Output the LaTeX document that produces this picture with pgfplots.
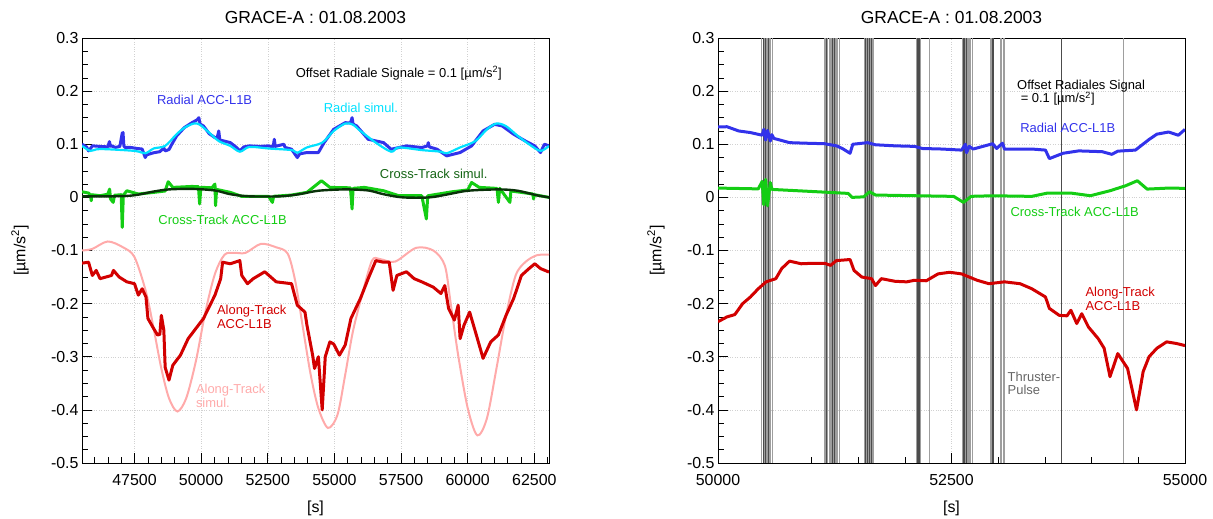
\documentclass[border=0pt]{standalone}
\usepackage{fontspec}
\setmainfont{Liberation Sans}
\usepackage{pgfplots}
\pgfplotsset{compat=1.18}

\definecolor{radblue}{RGB}{50,50,235}
\definecolor{radcyan}{RGB}{0,225,255}
\definecolor{crossgreen}{RGB}{20,205,20}
\definecolor{crossdark}{RGB}{10,50,10}
\definecolor{crosslabel}{RGB}{20,100,20}
\definecolor{alongred}{RGB}{210,0,0}
\definecolor{alongpink}{RGB}{255,170,170}

\tikzset{lbl/.style={font=\fontsize{13}{13.5}\selectfont, inner sep=0pt}}

\pgfplotsset{
  gracestyle/.style={
    scale only axis, width=467bp, height=425bp,
    ymin=-0.5, ymax=0.3,
    ytick={-0.5,-0.4,-0.3,-0.2,-0.1,0,0.1,0.2,0.3},
    yticklabels={-0.5,-0.4,-0.3,-0.2,-0.1,0,0.1,0.2,0.3},
    minor y tick num=3,
    tick pos=left, tick align=inside,
    major tick length=10bp, minor tick length=6bp,
    every tick/.style={black, line width=0.6bp},
    grid=major, major grid style={dotted, black!18, line width=0.5bp},
    axis line style={line width=0.8bp},
    scaled x ticks=false,
    tick label style={font=\fontsize{16}{19}\selectfont},
    xticklabel style={yshift=-8bp, /pgf/number format/fixed, /pgf/number format/1000 sep={}},
    label style={font=\fontsize{16}{19}\selectfont},
    /pgf/number format/1000 sep={},
    /pgf/number format/assume math mode=true,
    xlabel={[s]},
    ylabel={[µm/s\textsuperscript{2}]},
    ylabel style={at={(axis description cs:-0.133,0.5)}, anchor=center},
    xlabel style={at={(axis description cs:0.5,-0.106)}, anchor=center},
    title={GRACE-A : 01.08.2003},
    title style={at={(axis description cs:0.5,1.035)}, anchor=center, font=\fontsize{17.5}{20}\selectfont},
  }
}

\begin{document}
\begin{tikzpicture}
\useasboundingbox (0,0) rectangle (1213bp,519bp);

% ---------------- left panel ----------------
\begin{axis}[gracestyle, at={(82bp,56bp)}, anchor=south west,
  xmin=45530, xmax=63050,
  xtick={47500,50000,52500,55000,57500,60000,62500},
  xticklabels={47500,50000,52500,55000,57500,60000,62500},
  minor xtick={46000,46500,47000,48000,48500,49000,49500,50500,51000,51500,52000,53000,53500,54000,54500,55500,56000,56500,57000,58000,58500,59000,59500,60500,61000,61500,62000,63000},
]
% Radial ACC-L1B
\addplot[radblue, line width=3bp, line join=round] coordinates {
(45530,0.100)(45700,0.095)(45776,0.0875)(45850,0.092)(45919,0.097)(46200,0.096)(46500,0.095)(46560,0.105)(46600,0.096)(46638,0.097)(46781,0.094)(46950,0.096)(47040,0.121)(47069,0.122)(47100,0.097)(47141,0.094)(47356,0.094)(47600,0.092)(47787,0.091)(47902,0.075)(47950,0.080)(48219,0.084)(48450,0.086)(48600,0.093)(48650,0.0875)(48793,0.090)(48900,0.100)(49081,0.1156)(49368,0.1313)(49656,0.1406)(49850,0.146)(49914,0.150)(49960,0.138)(50087,0.1344)(50300,0.120)(50518,0.1125)(50600,0.112)(50661,0.125)(50700,0.108)(51093,0.1031)(51300,0.095)(51452,0.0875)(51600,0.095)(51811,0.0969)(52200,0.096)(52530,0.0969)(52700,0.095)(52745,0.1094)(52780,0.096)(53104,0.1000)(53150,0.094)(53392,0.0906)(53607,0.075)(53700,0.082)(53967,0.0844)(54398,0.0844)(54613,0.1031)(54972,0.1281)(55404,0.1406)(55600,0.140)(55662,0.150)(55700,0.138)(55835,0.1344)(56266,0.1094)(56841,0.1031)(57128,0.0906)(57703,0.0969)(58278,0.0938)(58493,0.0969)(58520,0.103)(58560,0.095)(58852,0.0906)(59212,0.0781)(59715,0.0844)(60146,0.0969)(60577,0.125)(61008,0.1375)(61295,0.1344)(61726,0.1188)(62157,0.1063)(62517,0.0969)(62732,0.0844)(62876,0.100)(63050,0.097)
};
% Radial simul.
\addplot[radcyan, line width=2.2bp, smooth, tension=0.5] coordinates {
(45530,0.097)(45848,0.0875)(46207,0.091)(47500,0.0875)(47902,0.083)(48219,0.092)(48650,0.097)(49081,0.119)(49368,0.131)(49727,0.139)(49943,0.137)(50230,0.125)(50661,0.106)(51093,0.097)(51452,0.086)(51811,0.095)(52530,0.092)(53392,0.089)(53607,0.084)(53967,0.094)(54541,0.103)(54972,0.125)(55404,0.139)(55691,0.137)(55978,0.125)(56553,0.103)(57128,0.086)(57415,0.094)(58278,0.089)(58996,0.086)(59212,0.083)(59715,0.094)(60289,0.106)(60720,0.128)(61079,0.139)(61439,0.134)(61870,0.116)(62301,0.100)(62732,0.0875)(63050,0.097)
};
% Cross-Track ACC-L1B
\addplot[crossgreen, line width=3bp, line join=round] coordinates {
(45530,0.0106)(45776,0.0081)(45850,0.004)(45876,-0.0063)(45900,0.005)(46207,0.0031)(46500,0.006)(46566,0.0156)(46600,-0.0031)(46700,-0.0094)(46750,0.004)(47000,0.005)(47040,-0.0563)(47080,0.004)(47213,0.0125)(47644,0.0063)(48219,0.0094)(48650,0.012)(48765,0.0294)(48937,0.0188)(49656,0.0206)(49900,0.02)(49943,-0.0125)(49990,0.019)(50400,0.018)(50518,0.025)(50540,-0.0156)(50580,0.015)(51093,0.0094)(51524,0.0019)(52530,0.0019)(52673,-0.0094)(52720,0.002)(53392,0.0044)(53967,0.0094)(54513,0.0313)(54829,0.0188)(55600,0.018)(55662,-0.0219)(55700,0.017)(56122,0.0188)(56841,0.0125)(57415,0.0031)(58278,0.0031)(58449,-0.0406)(58500,0.003)(59427,0.0106)(60000,0.014)(60146,0.028)(60433,0.0188)(61100,0.0169)(61152,-0.0094)(61200,0.017)(61583,-0.0094)(61620,0.012)(62014,0.0094)(62445,0.0063)(62470,-0.003)(62500,0.005)(63050,0.0)
};
% Cross-Track simul.
\addplot[crossdark, line width=2.4bp, smooth, tension=0.5] coordinates {
(45530,0.002)(46781,0.002)(47500,0.004)(48219,0.011)(48793,0.015)(49656,0.016)(50518,0.013)(51093,0.006)(51811,0.002)(52961,0.002)(53679,0.006)(54398,0.0125)(55404,0.015)(56266,0.013)(56841,0.006)(57559,0.0)(58565,0.0)(59283,0.006)(60002,0.0125)(61152,0.015)(61870,0.0125)(62589,0.004)(63050,0.0)
};
% Along-Track simul.
\addplot[alongpink, line width=2bp, smooth, tension=0.5] coordinates {
(45530,-0.1)(45919,-0.097)(46494,-0.083)(47069,-0.094)(47500,-0.1125)(47931,-0.178)(48219,-0.247)(48506,-0.322)(48793,-0.378)(49109,-0.403)(49440,-0.378)(49799,-0.309)(50158,-0.216)(50518,-0.144)(50877,-0.108)(51236,-0.1044)(51667,-0.1044)(52242,-0.0875)(52817,-0.094)(53248,-0.106)(53536,-0.159)(53823,-0.247)(54110,-0.334)(54398,-0.397)(54757,-0.434)(55116,-0.409)(55404,-0.334)(55691,-0.253)(56050,-0.181)(56409,-0.119)(56697,-0.116)(57272,-0.121)(58062,-0.095)(58709,-0.1)(59140,-0.128)(59355,-0.197)(59642,-0.297)(60002,-0.397)(60361,-0.448)(60720,-0.416)(61079,-0.322)(61439,-0.222)(61798,-0.147)(62157,-0.122)(62589,-0.109)(63050,-0.108)
};
% Along-Track ACC-L1B
\addplot[alongred, line width=3bp, line join=round] coordinates {
(45530,-0.1238)(45776,-0.122)(45919,-0.147)(46063,-0.1375)(46207,-0.153)(46638,-0.147)(46710,-0.1375)(46925,-0.150)(47213,-0.159)(47500,-0.1625)(47644,-0.184)(47787,-0.172)(47931,-0.1875)(48003,-0.228)(48219,-0.247)(48362,-0.259)(48450,-0.258)(48506,-0.222)(48600,-0.250)(48650,-0.320)(48793,-0.344)(48937,-0.316)(49224,-0.297)(49512,-0.266)(49799,-0.247)(50087,-0.228)(50518,-0.184)(50733,-0.153)(50805,-0.122)(51093,-0.125)(51452,-0.119)(51524,-0.147)(51739,-0.1625)(51955,-0.153)(52386,-0.140)(52817,-0.159)(53392,-0.1625)(53607,-0.203)(53895,-0.216)(53967,-0.240)(54182,-0.297)(54254,-0.322)(54398,-0.30)(54541,-0.40)(54656,-0.30)(54829,-0.272)(54972,-0.276)(55188,-0.297)(55404,-0.278)(55619,-0.228)(55978,-0.19)(56266,-0.153)(56553,-0.119)(56841,-0.122)(57056,-0.122)(57200,-0.175)(57343,-0.147)(57703,-0.140)(57990,-0.153)(58278,-0.159)(58709,-0.169)(58996,-0.181)(59140,-0.166)(59283,-0.209)(59499,-0.231)(59642,-0.203)(59715,-0.266)(59858,-0.241)(60073,-0.216)(60289,-0.253)(60433,-0.278)(60577,-0.303)(60864,-0.272)(61152,-0.259)(61439,-0.222)(61726,-0.19)(62014,-0.147)(62301,-0.134)(62517,-0.125)(62732,-0.134)(63050,-0.1406)
};
\node[lbl, text=black] at (axis cs:57415,0.234) {Offset Radiale Signale = 0.1 [µm/s\textsuperscript{2}]};
\node[lbl, text=radblue] at (axis cs:50130,0.184) {Radial ACC-L1B};
\node[lbl, text=radcyan] at (axis cs:55993,0.169) {Radial simul.};
\node[lbl, text=crosslabel] at (axis cs:58723,0.044) {Cross-Track simul.};
\node[lbl, text=crossgreen] at (axis cs:50805,-0.042) {Cross-Track ACC-L1B};
\node[lbl, text=alongred, anchor=west, align=left] at (axis cs:50590,-0.225) {Along-Track\\ACC-L1B};
\node[lbl, text=alongpink, anchor=west, align=left] at (axis cs:49800,-0.374) {Along-Track\\simul.};
\end{axis}

% ---------------- right panel ----------------
\begin{axis}[gracestyle, at={(718bp,56bp)}, anchor=south west,
  xmin=50000, xmax=55000,
  xtick={50000,52500,55000},
  xticklabels={50000,52500,55000},
  minor xtick={50500,51000,51500,52000,53000,53500,54000,54500},
]
% thruster pulses (light lines forming bands)
\pgfplotsinvokeforeach{50470,50482,50494,50506,50518,50530,50542,50554,50566,50578,51140,51152,51164,51176,51188,51200,51212,51224,51236,51248,51260,51272,51284,51296,51570,51582,51594,51606,51618,51630,51642,51654,51666,52122,52134,52146,52158,52170,52260,52612,52624,52636,52648,52660,52672,52684,52696,52708,52720,52918,52930,52942,52954,53026,53040,53054,53068,54343}{
  \addplot[black!38, line width=0.9bp, forget plot] coordinates {(#1,-0.5)(#1,0.3)};
}
% thruster pulses (dark lines)
\pgfplotsinvokeforeach{50490,50505,50540,51160,51226,51250,51580,51600,51620,51640,52130,52145,52160,52625,52640,52655,52935,52950,53674}{
  \addplot[black!70, line width=0.8bp, forget plot] coordinates {(#1,-0.5)(#1,0.3)};
}
% Radial ACC-L1B
\addplot[radblue, line width=3bp, line join=round] coordinates {
(50000,0.1325)(50096,0.133)(50222,0.125)(50347,0.122)(50473,0.117)(50490,0.128)(50510,0.108)(50530,0.126)(50560,0.106)(50577,0.118)(50598,0.111)(50766,0.103)(50933,0.102)(51142,0.101)(51268,0.097)(51331,0.092)(51414,0.083)(51443,0.100)(51602,0.103)(51686,0.099)(51895,0.097)(52105,0.096)(52188,0.092)(52397,0.091)(52607,0.089)(52649,0.100)(52660,0.084)(52690,0.096)(52732,0.091)(52941,0.101)(52983,0.092)(53046,0.102)(53067,0.091)(53109,0.091)(53360,0.091)(53506,0.089)(53548,0.073)(53694,0.083)(53862,0.0875)(54113,0.086)(54217,0.081)(54280,0.087)(54469,0.089)(54615,0.109)(54699,0.119)(54824,0.123)(54929,0.117)(55000,0.128)
};
% Cross-Track ACC-L1B
\addplot[crossgreen, line width=3bp, line join=round] coordinates {
(50000,0.0175)(50431,0.016)(50473,0.030)(50490,-0.014)(50510,0.034)(50530,-0.016)(50560,0.028)(50577,0.015)(50640,0.0144)(51059,0.0106)(51393,0.0075)(51435,0.0)(51561,0.001)(51623,0.0106)(51686,0.0044)(52105,0.0031)(52523,0.0019)(52628,-0.0094)(52711,0.002)(52941,0.003)(53360,0.0019)(53527,0.0081)(53778,0.0081)(53987,0.0031)(54197,0.0125)(54364,0.0219)(54490,0.0313)(54594,0.0156)(54824,0.0175)(55000,0.017)
};
% Along-Track ACC-L1B
\addplot[alongred, line width=3bp, line join=round] coordinates {
(50000,-0.234)(50096,-0.225)(50180,-0.2206)(50264,-0.200)(50347,-0.1875)(50431,-0.172)(50515,-0.159)(50619,-0.153)(50682,-0.134)(50766,-0.120)(50891,-0.125)(51017,-0.124)(51142,-0.124)(51205,-0.128)(51268,-0.119)(51414,-0.117)(51456,-0.1375)(51540,-0.150)(51644,-0.153)(51686,-0.166)(51749,-0.153)(51895,-0.158)(52021,-0.159)(52105,-0.156)(52230,-0.157)(52356,-0.144)(52481,-0.141)(52607,-0.144)(52774,-0.156)(52900,-0.1625)(53067,-0.159)(53234,-0.1625)(53360,-0.172)(53506,-0.1875)(53548,-0.209)(53653,-0.222)(53736,-0.223)(53778,-0.2125)(53841,-0.2375)(53895,-0.219)(53966,-0.244)(54071,-0.266)(54134,-0.284)(54197,-0.3375)(54280,-0.294)(54385,-0.322)(54481,-0.400)(54552,-0.328)(54615,-0.300)(54699,-0.284)(54803,-0.272)(54908,-0.275)(55000,-0.279)
};
\node[lbl, text=black, anchor=west, align=left] at (axis cs:53201,0.197) {Offset Radiales Signal\\\ = 0.1 [µm/s\textsuperscript{2}]};
\node[lbl, text=radblue, anchor=west] at (axis cs:53234,0.131) {Radial ACC-L1B};
\node[lbl, text=crossgreen, anchor=west] at (axis cs:53130,-0.028) {Cross-Track ACC-L1B};
\node[lbl, text=alongred, anchor=west, align=left] at (axis cs:53933,-0.191) {Along-Track\\ACC-L1B};
\node[lbl, text=black!60, anchor=west, align=left] at (axis cs:53100,-0.35) {Thruster-\\Pulse};
\end{axis}
\end{tikzpicture}
\end{document}
